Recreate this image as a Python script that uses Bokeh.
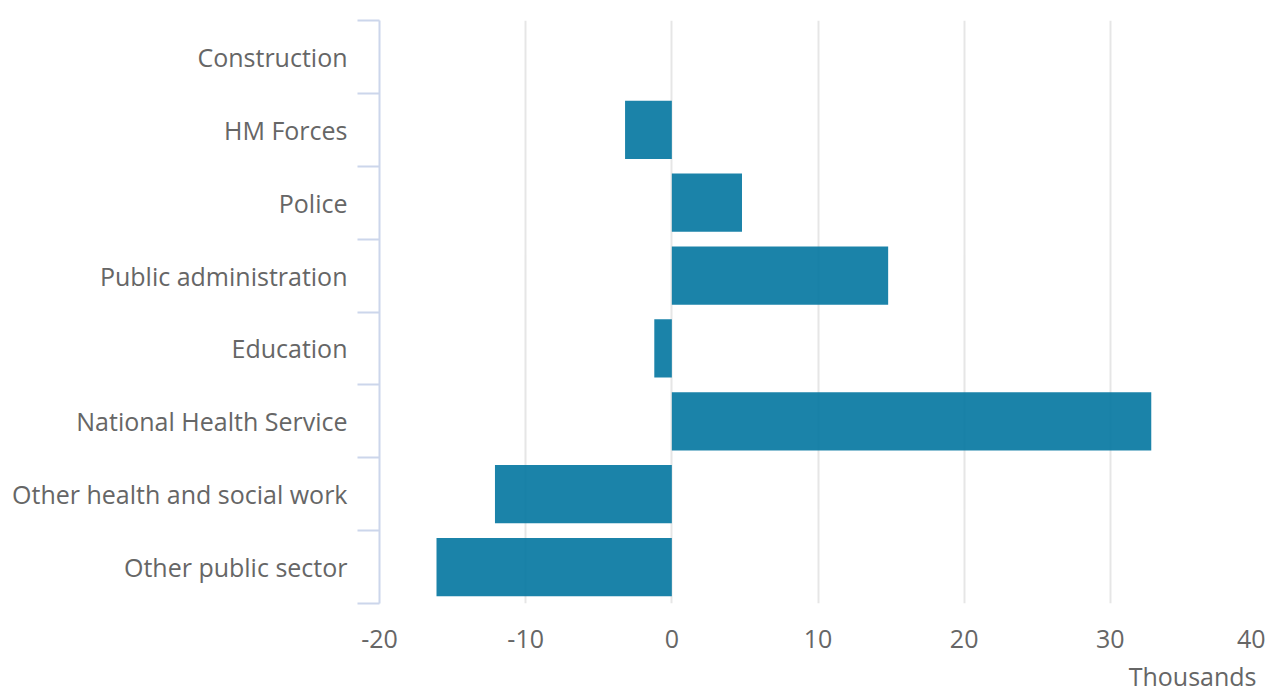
from bokeh.plotting import figure
from bokeh.models import Range1d, FixedTicker, ColumnDataSource, Title
from bokeh.embed import file_html
from bokeh.resources import INLINE

categories = ["Construction", "HM Forces", "Police", "Public administration",
              "Education", "National Health Service", "Other health and social work",
              "Other public sector"]
values = [0.0, -3.2, 4.8, 14.8, -1.2, 32.8, -12.1, -16.1]
x_ticks = [-20, -10, 0, 10, 20, 30, 40]
x_tick_labels = ["-20", "-10", "0", "10", "20", "30", "40"]
x_title = "Thousands"

n = len(categories)
ypos = [n - i - 0.5 for i in range(n)]
src = ColumnDataSource(dict(y=ypos, v=values, cat=categories))

FONT = "Open Sans"
GREY = "#666666"
FS = "25px"

p = figure(width=1265, height=698, output_backend="svg", toolbar_location=None,
           x_range=Range1d(-20, 40), y_range=Range1d(0, n),
           min_border_left=379, min_border_right=9, min_border_top=20,
           min_border_bottom=10)
p.outline_line_color = None
p.background_fill_color = "white"
p.border_fill_color = "white"

p.hbar(y="y", left=0, right="v", height=0.8, source=src,
       fill_color="#0275a0", fill_alpha=0.9, line_color=None)

# x axis
xa = p.xaxis[0]
xa.ticker = FixedTicker(ticks=x_ticks, minor_ticks=[])
xa.major_label_overrides = {t: l for t, l in zip(x_ticks, x_tick_labels)}
xa.axis_line_color = None
xa.major_tick_line_color = None
xa.minor_tick_line_color = None
xa.major_label_text_font = FONT
xa.major_label_text_font_size = FS
xa.major_label_text_color = GREY
xa.major_label_standoff = 20

# axis title as a right-aligned title below the axis
p.add_layout(Title(text=x_title, align="right", text_font=FONT,
                   text_font_size=FS, text_font_style="normal",
                   text_color=GREY, standoff=12, offset=0), "below")

# y axis
ya = p.yaxis[0]
ya.ticker = FixedTicker(ticks=ypos, minor_ticks=list(range(n + 1)))
ya.major_label_overrides = {y: c for y, c in zip(ypos, categories)}
ya.major_tick_line_color = None
ya.minor_tick_line_color = "#ccd6eb"
ya.minor_tick_line_width = 2
ya.minor_tick_out = 22
ya.minor_tick_in = 0
ya.axis_line_color = "#ccd6eb"
ya.axis_line_width = 2
ya.major_label_text_font = FONT
ya.major_label_text_font_size = FS
ya.major_label_text_color = GREY
ya.major_label_standoff = 10

p.xgrid.ticker = FixedTicker(ticks=x_ticks)
p.xgrid.grid_line_color = "#e6e6e6"
p.xgrid.grid_line_width = 2
p.ygrid.grid_line_color = None

open("out.html", "w").write(file_html(p, INLINE))
